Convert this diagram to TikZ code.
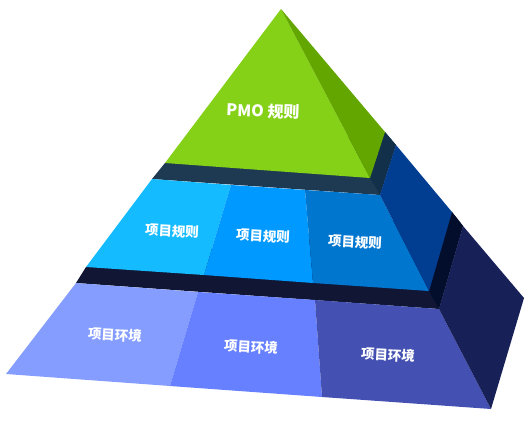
\documentclass[tikz,border=0pt]{standalone}
\usepackage{fontspec}
\newfontfamily\cjk{Noto Sans CJK SC}
\begin{document}
\begin{tikzpicture}[x=1pt,y=-1pt,
  lbl/.style={text=white,font=\cjk\bfseries\fontsize{13.5}{16}\selectfont,inner sep=0pt},
  toplbl/.style={text=white,font=\cjk\bfseries\fontsize{16}{19}\selectfont,inner sep=0pt}]
\definecolor{gfront}{HTML}{84D118}
\definecolor{gside}{HTML}{63A600}
\definecolor{mband}{HTML}{1E3A52}
\definecolor{mbandside}{HTML}{12304A}
\definecolor{mA}{HTML}{15BBFF}
\definecolor{mB}{HTML}{0099FF}
\definecolor{mC}{HTML}{0076CF}
\definecolor{mside}{HTML}{013D91}
\definecolor{bband}{HTML}{111634}
\definecolor{bbandside}{HTML}{030E2C}
\definecolor{bA}{HTML}{849DFF}
\definecolor{bB}{HTML}{6680FF}
\definecolor{bC}{HTML}{4451B3}
\definecolor{bside}{HTML}{182058}
\useasboundingbox (0,0) rectangle (530,434);
% bottom tier
\fill[bband] (86,267) -- (76,283) -- (439,309) -- (463,226) -- (452,212) -- cycle;
\fill[bbandside] (429,291) -- (439,309) -- (463,226) -- (452,212) -- cycle;
\fill[bA] (76,283) -- (198,292) -- (170,386) -- (6,374) -- cycle;
\fill[bB] (198,292) -- (315,300) -- (322,397) -- (170,386) -- cycle;
\fill[bC] (315,300) -- (439,309) -- (491,409) -- (322,397) -- cycle;
\fill[bside] (439,309) -- (463,226) -- (524,298) -- (491,409) -- cycle;
% middle tier
\fill[mband] (165,163) -- (152,179) -- (380,195) -- (396,145) -- (385,132) -- cycle;
\fill[mbandside] (370,178) -- (380,195) -- (396,145) -- (385,132) -- cycle;
\fill[mA] (152,179) -- (231,185) -- (204,275) -- (86,267) -- cycle;
\fill[mB] (231,185) -- (305,190) -- (313,283) -- (204,275) -- cycle;
\fill[mC] (305,190) -- (380,195) -- (429,291) -- (313,283) -- cycle;
\fill[mside] (380,195) -- (396,145) -- (452,212) -- (429,291) -- cycle;
% top pyramid
\fill[gfront] (281,9) -- (165,163) -- (370,178) -- cycle;
\fill[gside] (281,9) -- (370,178) -- (385,132) -- cycle;
% labels
\node[toplbl,rotate=-2] (top) at (263,111) {PMO 规则};
\node[lbl,rotate=-3] (m1) at (172,231) {项目规则};
\node[lbl,rotate=-3] (m2) at (263,236) {项目规则};
\node[lbl,rotate=-3] (m3) at (355,242) {项目规则};
\node[lbl,rotate=-3] (b1) at (115,335) {项目环境};
\node[lbl,rotate=-3] (b2) at (251,347) {项目环境};
\node[lbl,rotate=-3] (b3) at (388,355) {项目环境};
\end{tikzpicture}
\end{document}
